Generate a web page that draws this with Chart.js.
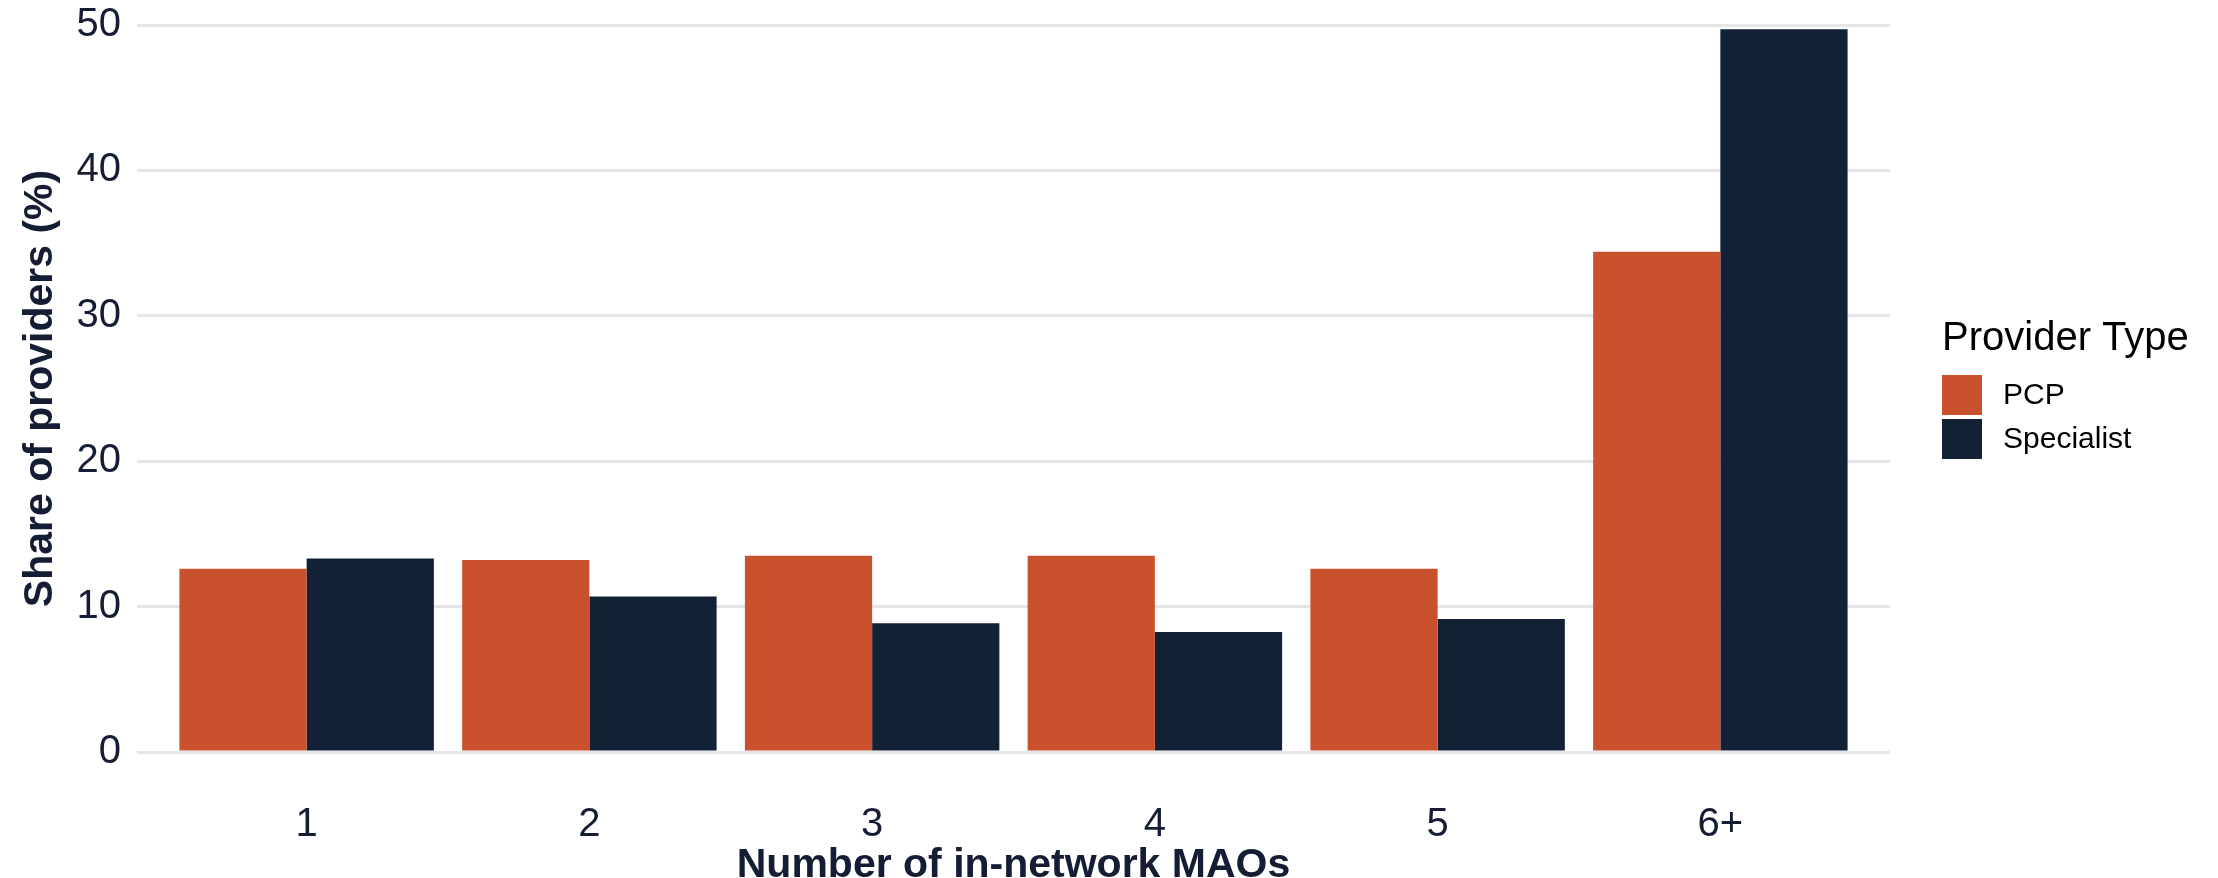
<!DOCTYPE html>
<html>
<head>
<meta charset="utf-8">
<script src="https://cdn.jsdelivr.net/npm/chart.js@4/dist/chart.umd.min.js"></script>
<style>
  html, body { margin: 0; padding: 0; background: #fff; }
  #wrap { width: 2218px; height: 878px; }
</style>
</head>
<body>
<div id="wrap"><canvas id="chart"></canvas></div>
<script>
// data
const categories = ["1", "2", "3", "4", "5", "6+"];
const pcp = [12.6, 13.2, 13.5, 13.5, 12.6, 34.4];
const specialist = [13.3, 10.7, 8.85, 8.25, 9.15, 49.7];
const yTicks = [0, 10, 20, 30, 40, 50];
const legendTitle = "Provider Type";

const textColor = "#141d33";
const font = "Liberation Sans, Arial, sans-serif";

// ggplot-like legend on the right, built from the datasets
const sideLegend = {
    id: "sideLegend",
    afterDraw(chart) {
        const c = chart.ctx;
        const x = chart.chartArea.right + 52;
        c.save();
        c.textBaseline = "middle";
        c.textAlign = "left";
        c.fillStyle = "#000";
        c.font = "40px " + font;
        c.fillText(legendTitle, x, 339);
        c.font = "30px " + font;
        chart.data.datasets.forEach((ds, i) => {
            const top = 375 + i * 44;
            c.fillStyle = ds.backgroundColor;
            c.fillRect(x, top, 40, 40);
            c.fillStyle = "#000";
            c.fillText(ds.label, x + 61, top + 21);
        });
        c.restore();
    }
};

// categories sit at 0..5 on a linear axis so the side gaps match ggplot (0.6 units)
const toPoints = (vals) => vals.map((v, i) => ({ x: i, y: v }));

const ctx = document.getElementById("chart").getContext("2d");
const chart = new Chart(ctx, {
    type: "bar",
    data: {
        datasets: [{
            label: "PCP",
            data: toPoints(pcp),
            backgroundColor: "#c9512d",
            categoryPercentage: 0.9,
            barPercentage: 1.0,
        }, {
            label: "Specialist",
            data: toPoints(specialist),
            backgroundColor: "#132137",
            categoryPercentage: 0.9,
            barPercentage: 1.0,
        }]
    },
    plugins: [sideLegend],
    options: {
        responsive: true,
        maintainAspectRatio: false,
        animation: false,
        devicePixelRatio: 1,
        layout: { padding: { top: 25, right: 328, left: 20, bottom: 0 } },
        plugins: {
            tooltip: { enabled: false },
            legend: { display: false },
        },
        scales: {
            x: {
                type: "linear",
                min: -0.6,
                max: categories.length - 1 + 0.6,
                offset: false,
                afterFit: (scale) => { scale.height = 126; scale.paddingLeft = 0; scale.paddingRight = 0; },
                afterBuildTicks: (axis) => { axis.ticks = categories.map((c, i) => ({ value: i })); },
                grid: { display: false },
                border: { display: false },
                ticks: {
                    color: textColor,
                    font: { family: font, size: 40, lineHeight: 1 },
                    padding: 45,
                    callback: (v) => categories[v],
                },
                title: {
                    display: true,
                    text: "Number of in-network MAOs",
                    color: textColor,
                    font: { family: font, size: 41, weight: "bold", lineHeight: 1 },
                    padding: { top: 0, bottom: -8 },
                },
            },
            y: {
                min: 0,
                max: 50,
                afterFit: (scale) => { scale.width = 117; scale.paddingTop = 0; scale.paddingBottom = 0; },
                afterBuildTicks: (axis) => { axis.ticks = yTicks.map(v => ({ value: v })); },
                grid: { color: "#e5e5ea", lineWidth: 3, drawTicks: false },
                border: { display: false },
                ticks: {
                    color: textColor,
                    font: { family: font, size: 40, lineHeight: 1.2 },
                    padding: 16,
                },
                title: {
                    display: true,
                    text: "Share of providers (%)",
                    color: textColor,
                    font: { family: font, size: 41, weight: "bold", lineHeight: 1 },
                    padding: { top: 0, bottom: 20 },
                },
            },
        },
    },
});
</script>
</body>
</html>
